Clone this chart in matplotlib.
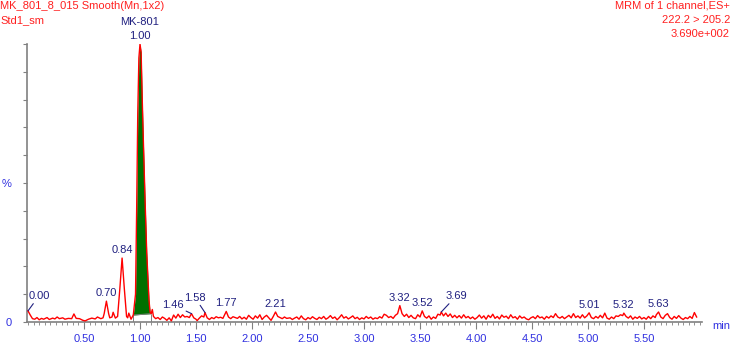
import numpy as np
import matplotlib
matplotlib.use("Agg")
import matplotlib.pyplot as plt
from matplotlib.ticker import MultipleLocator

plt.rcParams['font.family'] = ['Liberation Sans', 'DejaVu Sans']

# chromatogram trace (retention time in min, intensity in %)
rt = [0.00, 0.02, 0.04, 0.06, 0.08, 0.10, 0.12, 0.14, 0.17, 0.19, 0.22, 0.24, 0.26, 0.28,
      0.31, 0.33, 0.36, 0.39, 0.41, 0.43, 0.46, 0.49, 0.51, 0.54, 0.57, 0.60, 0.62, 0.65,
      0.67, 0.68, 0.70, 0.72, 0.73, 0.75, 0.76, 0.78, 0.80, 0.82, 0.84, 0.86, 0.88, 0.89,
      0.90, 0.92, 0.94, 0.96, 0.97, 0.98, 0.99, 1.00, 1.01, 1.02, 1.03, 1.045, 1.06, 1.08,
      1.09, 1.10, 1.11, 1.12, 1.14, 1.16, 1.18, 1.20, 1.22, 1.24, 1.26, 1.28, 1.30, 1.32,
      1.34, 1.36, 1.38, 1.40, 1.42, 1.44, 1.46, 1.48, 1.50, 1.51, 1.53, 1.55, 1.57, 1.58,
      1.60, 1.62, 1.64, 1.66, 1.68, 1.70, 1.72, 1.74, 1.77, 1.79, 1.81, 1.83, 1.85, 1.87,
      1.89, 1.91, 1.93, 1.95, 1.97, 1.99, 2.01, 2.03, 2.05, 2.07, 2.09, 2.11, 2.13, 2.15,
      2.17, 2.19, 2.21, 2.23, 2.25, 2.27, 2.29, 2.31, 2.34, 2.36, 2.38, 2.40, 2.42, 2.44,
      2.46, 2.48, 2.50, 2.52, 2.54, 2.56, 2.58, 2.60, 2.62, 2.64, 2.66, 2.68, 2.70, 2.72,
      2.74, 2.76, 2.78, 2.80, 2.82, 2.84, 2.86, 2.88, 2.90, 2.92, 2.94, 2.96, 2.98, 3.00,
      3.02, 3.04, 3.06, 3.08, 3.10, 3.12, 3.14, 3.16, 3.18, 3.20, 3.22, 3.24, 3.26, 3.28,
      3.30, 3.32, 3.34, 3.36, 3.38, 3.40, 3.42, 3.44, 3.46, 3.48, 3.50, 3.52, 3.54, 3.56,
      3.58, 3.60, 3.62, 3.64, 3.66, 3.68, 3.69, 3.71, 3.73, 3.75, 3.77, 3.79, 3.81, 3.83,
      3.85, 3.87, 3.89, 3.91, 3.93, 3.95, 3.97, 3.99, 4.01, 4.03, 4.05, 4.07, 4.09, 4.11,
      4.13, 4.15, 4.17, 4.19, 4.21, 4.23, 4.25, 4.27, 4.29, 4.31, 4.33, 4.35, 4.37, 4.39,
      4.41, 4.43, 4.45, 4.47, 4.49, 4.51, 4.53, 4.55, 4.57, 4.59, 4.61, 4.63, 4.65, 4.67,
      4.69, 4.71, 4.73, 4.75, 4.77, 4.79, 4.81, 4.83, 4.85, 4.87, 4.89, 4.91, 4.93, 4.95,
      4.97, 4.99, 5.01, 5.03, 5.05, 5.07, 5.09, 5.11, 5.13, 5.15, 5.17, 5.19, 5.21, 5.23,
      5.25, 5.27, 5.29, 5.31, 5.32, 5.34, 5.36, 5.38, 5.40, 5.42, 5.44, 5.46, 5.48, 5.50,
      5.52, 5.54, 5.56, 5.58, 5.60, 5.61, 5.63, 5.65, 5.67, 5.69, 5.71, 5.73, 5.75, 5.77,
      5.79, 5.81, 5.83, 5.85, 5.87, 5.89, 5.91, 5.93, 5.95, 5.97]
pct = [4.0, 2.5, 1.2, 1.0, 1.6, 0.8, 1.3, 1.0, 1.6, 0.9, 1.4, 1.1, 1.8, 1.2,
       1.5, 1.0, 1.3, 1.2, 2.9, 1.3, 1.2, 0.6, 0.4, 1.0, 1.4, 1.1, 1.8, 1.2,
       1.5, 3.0, 7.5, 3.0, 1.5, 1.8, 3.5, 1.4, 2.0, 12.0, 23.0, 12.0, 2.0, 1.5,
       3.2, 1.0, 2.5, 10.0, 40.0, 75.0, 95.0, 100.0, 97.0, 80.0, 65.0, 44.0, 25.0, 8.0,
       3.5, 3.0, 4.5, 2.0, 1.2, 1.6, 0.9, 1.8, 1.3, 0.6, 1.5, 0.4, 2.5, 1.4,
       2.8, 1.6, 2.6, 1.8, 2.0, 1.6, 3.0, 1.5, 1.0, 0.5, 1.4, 2.2, 1.8, 3.4,
       1.5, 0.9, 1.6, 1.2, 1.9, 1.5, 1.7, 1.3, 3.8, 1.8, 1.2, 1.9, 1.6, 1.3,
       2.0, 1.1, 1.7, 1.0, 2.4, 1.6, 1.0, 2.2, 1.4, 2.6, 0.9, 1.8, 2.4, 1.5,
       0.6, 2.0, 3.6, 2.0, 1.6, 1.2, 1.8, 1.3, 1.5, 0.9, 1.4, 1.8, 1.0, 2.2,
       1.2, 0.8, 1.6, 1.1, 1.9, 1.3, 0.9, 1.7, 1.2, 2.0, 1.0, 1.5, 2.3, 1.3,
       1.8, 0.8, 1.6, 2.6, 1.4, 1.9, 1.1, 1.6, 2.2, 1.2, 1.7, 0.9, 1.5, 1.1,
       2.0, 1.3, 1.8, 1.0, 1.5, 1.2, 1.9, 1.4, 2.8, 2.4, 1.6, 2.0, 1.3, 2.4,
       3.0, 5.9, 3.0, 2.0, 2.8, 1.6, 2.4, 1.5, 1.2, 2.6, 1.8, 4.0, 2.0, 1.4,
       2.2, 1.0, 1.8, 1.3, 2.8, 2.5, 3.6, 2.2, 3.2, 2.0, 2.9, 1.6, 2.4, 1.5,
       2.3, 1.4, 2.6, 1.5, 2.0, 1.2, 1.8, 1.0, 1.6, 2.5, 1.4, 2.2, 1.0, 2.4,
       1.6, 2.8, 1.3, 2.0, 1.1, 2.5, 1.7, 2.1, 1.2, 2.6, 1.5, 1.9, 1.0, 2.2,
       1.4, 1.8, 1.1, 0.8, 1.5, 1.9, 1.2, 2.3, 1.5, 1.8, 1.0, 2.0, 1.4, 2.2,
       1.6, 3.0, 1.8, 1.4, 2.0, 1.2, 1.8, 2.4, 1.5, 3.0, 1.6, 2.2, 1.4, 2.6,
       1.5, 2.2, 3.3, 1.6, 1.2, 2.0, 1.4, 2.4, 1.5, 3.2, 1.4, 1.0, 1.8, 1.2,
       2.2, 2.0, 2.6, 2.3, 3.2, 2.0, 1.4, 2.2, 1.0, 1.8, 1.3, 2.0, 1.1, 1.6,
       1.0, 2.0, 1.2, 2.2, 1.6, 2.6, 3.6, 1.8, 1.2, 2.4, 3.0, 1.6, 1.0, 2.0,
       1.3, 2.3, 1.4, 0.9, 1.6, 1.2, 2.0, 1.3, 3.4, 1.8]

# labelled peaks
peak_rt = [0.00, 0.70, 0.84, 1.00, 1.46, 1.58, 1.77, 2.21, 3.32, 3.52, 3.69, 5.01, 5.32, 5.63]
peak_text = ['0.00', '0.70', '0.84', '1.00', '1.46', '1.58', '1.77', '2.21', '3.32', '3.52',
             '3.69', '5.01', '5.32', '5.63']
# integrated peak (MK-801)
integ_start, integ_end = 0.94, 1.10

# label offsets in pixels (dx, dy) for labels with a leader line
label_offsets = {'0.00': (11, 15), '1.46': (-19, 9), '1.58': (-10, 15), '3.69': (15, 16)}

red = '#ff2020'
navy = '#202080'
blue = '#3030e0'
grey = '#808080'
fs = 8

fig = plt.figure(figsize=(7.31, 3.44), dpi=100)
ax = fig.add_axes([27 / 731, 22 / 344, 675 / 731, 278 / 344])

rt_a = np.array(rt)
pct_a = np.array(pct)

# green filled integration area
i0 = rt.index(integ_start)
i1 = rt.index(integ_end)
x_fill = rt_a[i0:i1 + 1]
base = np.interp(x_fill, [integ_start, integ_end], [pct[i0], pct[i1]])
ax.fill_between(x_fill, base, pct_a[i0:i1 + 1], color='#007000', lw=0, zorder=2)
ax.plot([integ_start, integ_end], [pct[i0], pct[i1]], color=grey, lw=0.7, zorder=3)
ax.vlines([integ_start, integ_end], 0, [pct[i0], pct[i1]], color=grey, lw=0.7, zorder=3)

ax.plot(rt_a, pct_a, color='red', lw=1.0, zorder=4)

for t, txt in zip(peak_rt, peak_text):
    y = pct[rt.index(t)]
    if txt in label_offsets:
        dx, dy = label_offsets[txt]
        ax.annotate(txt, (t, y), xytext=(dx, dy), textcoords='offset pixels',
                    ha='center', va='center', color=navy, fontsize=fs,
                    arrowprops=dict(arrowstyle='-', color=navy, lw=0.8,
                                    shrinkA=0, shrinkB=0), zorder=5)
    else:
        ax.annotate(txt, (t, y), xytext=(0, 3), textcoords='offset pixels',
                    ha='center', va='bottom', color=navy, fontsize=fs, zorder=5)
ax.annotate('MK-801', (1.00, 100), xytext=(0, 17), textcoords='offset pixels',
            ha='center', va='bottom', color=navy, fontsize=fs, annotation_clip=False)

ax.set_xlim(-0.009, 6.018)
ax.set_ylim(0, 100)
for s in ['top', 'right']:
    ax.spines[s].set_visible(False)
for s in ['left', 'bottom']:
    ax.spines[s].set_color(grey)
    ax.spines[s].set_linewidth(1.2)

ax.xaxis.set_minor_locator(MultipleLocator(0.05))
ax.set_xticks([0.5, 1.0, 1.5, 2.0, 2.5, 3.0, 3.5, 4.0, 4.5, 5.0, 5.5])
ax.set_xticklabels(['0.50', '1.00', '1.50', '2.00', '2.50', '3.00', '3.50', '4.00',
                    '4.50', '5.00', '5.50'])
ax.tick_params(axis='x', which='major', length=5, color=grey, labelcolor=blue,
               labelsize=fs, pad=4)
ax.tick_params(axis='x', which='minor', length=2.5, color=grey)

ax.set_yticks(np.arange(0, 101, 10))
ax.set_yticklabels(['0', '', '', '', '', '%', '', '', '', '', ''])
ax.tick_params(axis='y', length=3, color=grey, labelcolor=blue, labelsize=fs, pad=8)

fig.text(712 / 731, 18 / 344, 'min', color=blue, fontsize=fs, va='center')

fig.text(0.0, 1 - 6 / 344, 'MK_801_8_015 Smooth(Mn,1x2)', color=red, fontsize=fs, va='center')
fig.text(0.0, 1 - 20 / 344, 'Std1_sm', color=red, fontsize=fs, va='center')
fig.text(730 / 731, 1 - 6 / 344, 'MRM of 1 channel,ES+', color=red, fontsize=fs,
         va='center', ha='right')
fig.text(730 / 731, 1 - 20 / 344, '222.2 > 205.2', color=red, fontsize=fs,
         va='center', ha='right')
fig.text(730 / 731, 1 - 34 / 344, '3.690e+002', color=red, fontsize=fs,
         va='center', ha='right')

fig.savefig('out.png', dpi=100)
